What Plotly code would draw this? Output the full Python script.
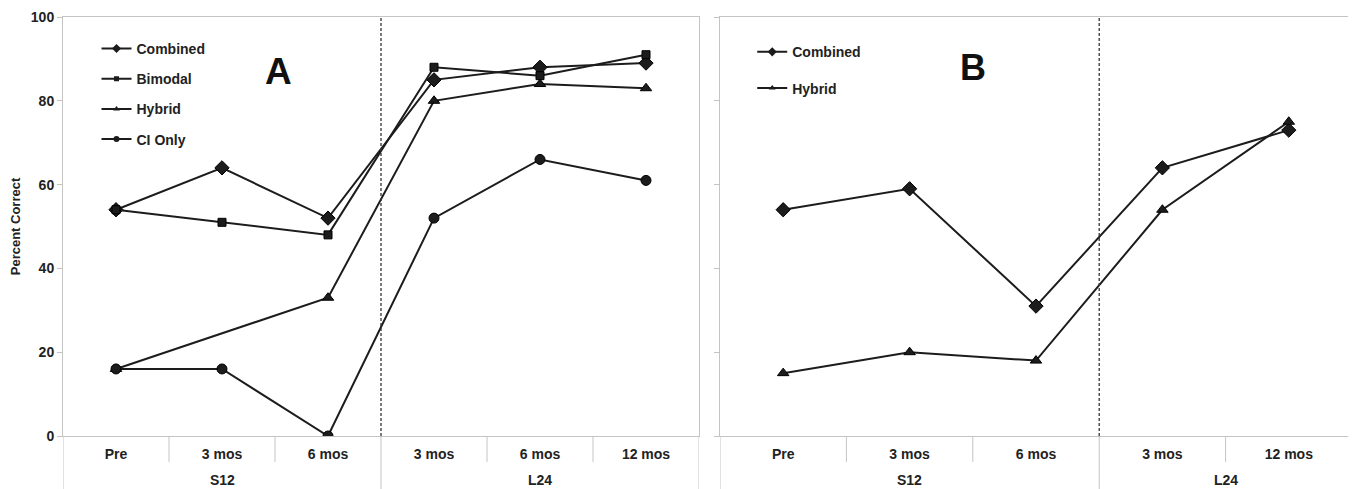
import plotly.graph_objects as go

# ---------------- data ----------------
outer_a = ["S12", "S12", "S12", "L24", "L24", "L24"]
inner_a = ["Pre", "3 mos", "6 mos", "3 mos", "6 mos", "12 mos"]
combined_a = [54, 64, 52, 85, 88, 89]
bimodal_a = [54, 51, 48, 88, 86, 91]
hybrid_a = [16, None, 33, 80, 84, 83]
ci_only_a = [16, 16, 0, 52, 66, 61]

outer_b = ["S12", "S12", "S12", "L24", "L24"]
inner_b = ["Pre", "3 mos", "6 mos", "3 mos", "12 mos"]
combined_b = [54, 59, 31, 64, 73]
hybrid_b = [15, 20, 18, 54, 75]

y_ticks = [0, 20, 40, 60, 80, 100]

# ---------------- style ----------------
FONT = "Liberation Sans"
LINE_C = "#1c1c1c"
AX_C = "#c4c4c4"

# the page body has an 8px margin, so the figure is laid out 8px up/left
W, H = 1348, 481
ML, MR, MT, MB = 55, 4, 9, 53
PW = W - ML - MR
PH = H - MT - MB
domA = [0, 636 / PW]
domB = [657 / PW, 1.0]

fig = go.Figure()

SYMBOLS = {"Combined": ("diamond", 11), "Bimodal": ("square", 8),
           "Hybrid": ("triangle-up", 10), "CI Only": ("circle", 10)}


def add(x_inner, y, name, xa, ya, legend):
    symbol, size = SYMBOLS[name]
    xs = list(range(len(x_inner)))
    fig.add_trace(go.Scatter(
        x=xs, y=y, name=name, mode="lines+markers", showlegend=False,
        connectgaps=True, xaxis=xa, yaxis=ya,
        line=dict(color=LINE_C, width=2),
        marker=dict(symbol=symbol, size=size, color=LINE_C,
                    line=dict(color="#000", width=1)),
    ))
    # legend entry (small marker, like the original)
    fig.add_trace(go.Scatter(
        x=[None], y=[None], name=name, mode="lines+markers", legend=legend,
        legendgroup=name + legend, xaxis=xa, yaxis=ya,
        line=dict(color=LINE_C, width=2),
        marker=dict(symbol=symbol, size=max(size - 4, 5), color=LINE_C),
    ))


add(inner_a, combined_a, "Combined", "x", "y", "legend")
add(inner_a, bimodal_a, "Bimodal", "x", "y", "legend")
add(inner_a, hybrid_a, "Hybrid", "x", "y", "legend")
add(inner_a, ci_only_a, "CI Only", "x", "y", "legend")
add(inner_b, combined_b, "Combined", "x2", "y2", "legend2")
add(inner_b, hybrid_b, "Hybrid", "x2", "y2", "legend2")

tickfont = dict(family=FONT, size=14, color="#222", weight="bold")


def xaxis_cfg(labels, dom, anchor):
    return dict(domain=dom, anchor=anchor, range=[-0.5, len(labels) - 0.5],
                tickvals=list(range(len(labels))), ticktext=labels,
                ticks="outside", ticklen=5, tickcolor="rgba(0,0,0,0)",
                showline=True, linecolor=AX_C, linewidth=1, mirror=True,
                showgrid=False, zeroline=False, tickfont=tickfont,
                automargin=False, fixedrange=True)


ycommon = dict(range=[0, 100], tickvals=y_ticks, ticks="outside", ticklen=5,
               tickcolor=AX_C, showline=True, linecolor=AX_C, linewidth=1,
               mirror=True, showgrid=False, zeroline=False, tickfont=tickfont,
               automargin=False)

legend_font = dict(family=FONT, size=14, color="#222", weight="bold")

fig.update_layout(
    width=W, height=H,
    margin=dict(l=ML, r=MR, t=MT, b=MB, autoexpand=False),
    paper_bgcolor="white", plot_bgcolor="white",
    font=dict(family=FONT, color="#222"),
    xaxis=xaxis_cfg(inner_a, domA, "y"),
    xaxis2=xaxis_cfg(inner_b, domB, "y2"),
    yaxis=dict(anchor="x", title=dict(text="Percent Correct", standoff=10,
                                      font=dict(family=FONT, size=13, color="#222", weight="bold")),
               **ycommon),
    yaxis2=dict(anchor="x2", showticklabels=False, **ycommon),
    legend=dict(x=0.026, y=0.962, xanchor="left", yanchor="top",
                bgcolor="rgba(0,0,0,0)", tracegroupgap=9, itemwidth=30,
                font=legend_font),
    legend2=dict(x=domB[0] + 0.025, y=0.954, xanchor="left", yanchor="top",
                 bgcolor="rgba(0,0,0,0)", tracegroupgap=15, itemwidth=30,
                 font=legend_font),
    showlegend=True,
)

shapes = []
annotations = []
for xref, yref, outer in (("x", "y domain", outer_a), ("x2", "y2 domain", outer_b)):
    n = len(outer)
    groups = []
    for i, g in enumerate(outer):
        if not groups or groups[-1][0] != g:
            groups.append([g, i, i])
        else:
            groups[-1][2] = i
    group_starts = {s for _, s, _ in groups}
    # category separators (short) and group separators (long)
    for i in range(0, n + 1):
        long_ = i in group_starts or i == n
        shapes.append(dict(type="line", xref=xref, yref=yref, x0=i - 0.5, x1=i - 0.5,
                           y0=0, y1=-(MB if long_ else 26) / PH,
                           line=dict(color=AX_C, width=1)))
    # dashed separator between groups
    for _, s, _ in groups[1:]:
        shapes.append(dict(type="line", xref=xref, yref=yref.replace(" domain", ""),
                           x0=s - 0.5, x1=s - 0.5, y0=0, y1=100,
                           line=dict(color="#333", width=1.3, dash="3px,2px")))
    for g, s, e in groups:
        annotations.append(dict(text=g, xref=xref, yref=yref, x=(s + e) / 2, y=-44 / PH,
                                showarrow=False, xanchor="center", yanchor="middle",
                                font=dict(family=FONT, size=14, color="#222", weight="bold")))

annotations.append(dict(text="A", xref="x domain", yref="y domain", x=(278 - 63) / 636,
                        y=1 - (72 - 17) / PH, showarrow=False, xanchor="center", yanchor="middle",
                        font=dict(family=FONT, size=37, color="#111", weight="bold")))
annotations.append(dict(text="B", xref="x2 domain", yref="y2 domain", x=(973 - 720) / 632,
                        y=1 - (68 - 17) / PH, showarrow=False, xanchor="center", yanchor="middle",
                        font=dict(family=FONT, size=36, color="#111", weight="bold")))
fig.update_layout(shapes=shapes, annotations=annotations)

fig.write_html("out.html")
